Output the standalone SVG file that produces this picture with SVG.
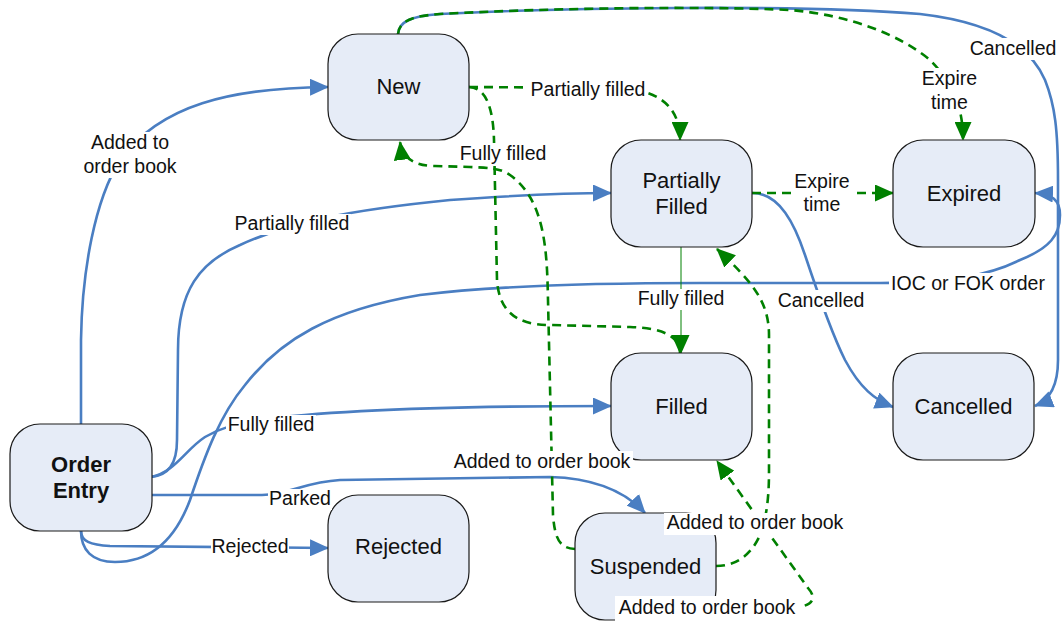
<svg xmlns="http://www.w3.org/2000/svg" width="1062" height="621" viewBox="0 0 1062 621">
<style>
.node rect{fill:#E6ECF7;stroke:#1a1a1a;stroke-width:1.2}
.node text{font-family:"Liberation Sans",Arial,sans-serif;font-size:22px;fill:#111;text-anchor:middle}
.node text.b{font-weight:bold}
.bl{fill:none;stroke:#4A7EC2;stroke-width:2.6}
.gr{fill:none;stroke:#008000;stroke-width:2.6;stroke-dasharray:9,6}
.gt{fill:none;stroke:#008000;stroke-width:1}
.lbg{fill:#fff}
.lt{font-family:"Liberation Sans",Arial,sans-serif;font-size:19.5px;fill:#111;text-anchor:middle}
</style>
<defs>
<marker id="ab" markerUnits="userSpaceOnUse" markerWidth="19" markerHeight="17" viewBox="0 0 19 17" refX="18" refY="8.5" orient="auto"><path d="M0,0 L19,8.5 L0,17 z" fill="#4A7EC2"/></marker>
<marker id="ag" markerUnits="userSpaceOnUse" markerWidth="19" markerHeight="17" viewBox="0 0 19 17" refX="18" refY="8.5" orient="auto"><path d="M0,0 L19,8.5 L0,17 z" fill="#008000"/></marker>
</defs>
<rect width="1062" height="621" fill="#fff"/>
<g id="connectors">
<path class="bl" marker-end="url(#ab)" d="M81,424 L81,340 C82,270 95,200 120,160 C160,105 230,88 328,87"/>
<path class="bl" marker-end="url(#ab)" d="M151,477 C168,475 177,465 177,440 L178,350 C178,290 200,262 240,245 C290,222 350,210 450,200 C520,195 570,193 611,193"/>
<path class="bl" marker-end="url(#ab)" d="M151,477 C175,472 185,450 205,437 C220,428 235,424 260,420 C330,410 450,406 611,406"/>
<path class="bl" marker-end="url(#ab)" d="M152,495 L262,495 C290,494 305,482 340,480 L550,477 C590,478 622,488 645,513"/>
<path class="bl" marker-end="url(#ab)" d="M81,531 C81,541 90,545 110,546 L328,548"/>
<path class="bl" marker-end="url(#ab)" d="M81,531 C81,550 92,562 115,562 C150,562 175,540 190,500 C205,455 220,415 245,385 C280,340 330,310 420,295 C500,285 600,283 700,283 L880,283 C950,283 990,275 1020,260 C1050,248 1060,235 1060,215 C1060,200 1052,194 1035,193"/>
<path class="bl" marker-end="url(#ab)" d="M752,193 C780,193 795,225 805,255 C815,285 830,330 845,360 C860,388 875,400 893,407"/>
<path class="bl" marker-end="url(#ab)" d="M398,34 C399,22 410,16 440,14 C550,8 800,4 920,14 C990,22 1030,45 1045,80 C1055,105 1058,130 1058,180 L1058,360 C1058,385 1050,400 1035,406"/>
<path class="gr" marker-end="url(#ag)" d="M398,34 C399,22 410,16 440,14 C550,8 700,6 790,10 C850,15 900,35 930,60 C955,85 963,110 963,140"/>
<path class="gr" marker-end="url(#ag)" d="M469,87 L620,88 C650,90 680,100 680,140"/>
<path class="gr" marker-end="url(#ag)" d="M752,193 L893,193"/>
<path class="gr" marker-end="url(#ag)" d="M469,87 C485,88 493,105 494,140 L497,280 C499,310 515,325 550,325 L630,327 C660,328 680,335 680,353"/>
<path class="gr" marker-end="url(#ag)" d="M575,549 C560,548 555,540 553,515 L548,300 C547,250 545,200 510,175 C500,168 490,168 470,167 L435,166 C415,166 402,158 400,142"/>
<path class="gr" marker-end="url(#ag)" d="M716,566 C740,566 755,550 762,530 C768,510 769,490 769,470 L769,335 C769,300 750,280 717,249"/>
<path class="gr" marker-end="url(#ag)" d="M700,612 L795,608 C815,605 816,597 808,588 L717,461"/>
<path class="gt" marker-end="url(#ag)" d="M681,247 L681,353"/>
</g>
<g id="node-new" class="node"><rect x="328" y="34" width="141" height="106" rx="30"/><text x="398.5" y="94">New</text></g>
<g id="node-partially-filled" class="node"><rect x="611" y="140" width="141" height="107" rx="30"/><text x="681.5" y="188">Partially</text><text x="681.5" y="214">Filled</text></g>
<g id="node-expired" class="node"><rect x="893" y="140" width="142" height="107" rx="30"/><text x="964" y="201">Expired</text></g>
<g id="node-filled" class="node"><rect x="611" y="353" width="141" height="107" rx="30"/><text x="681.5" y="414">Filled</text></g>
<g id="node-cancelled" class="node"><rect x="893" y="353" width="141" height="107" rx="30"/><text x="963.5" y="414">Cancelled</text></g>
<g id="node-order-entry" class="node"><rect x="10" y="424" width="142" height="107" rx="30"/><text class="b" x="81" y="472">Order</text><text class="b" x="81" y="498">Entry</text></g>
<g id="node-rejected" class="node"><rect x="328" y="495" width="141" height="107" rx="30"/><text x="398.5" y="554">Rejected</text></g>
<g id="node-suspended" class="node"><rect x="575" y="513" width="141" height="107" rx="30"/><text x="645.5" y="574">Suspended</text></g>
<g id="labels">
<rect class="lbg" x="83" y="132" width="94" height="46"/><text class="lt" x="130" y="149">Added to</text><text class="lt" x="130" y="173">order book</text>
<rect class="lbg" x="233" y="214" width="118" height="21"/><text class="lt" x="292" y="230">Partially filled</text>
<rect class="lbg" x="226" y="415" width="90" height="21"/><text class="lt" x="271" y="431">Fully filled</text>
<rect class="lbg" x="268" y="489" width="64" height="21"/><text class="lt" x="300" y="505">Parked</text>
<rect class="lbg" x="211" y="537" width="78" height="21"/><text class="lt" x="250" y="553">Rejected</text>
<rect class="lbg" x="889" y="273" width="158" height="21"/><text class="lt" x="968" y="290">IOC or FOK order</text>
<rect class="lbg" x="776" y="290" width="90" height="22"/><text class="lt" x="821" y="307">Cancelled</text>
<rect class="lbg" x="636" y="289" width="90" height="21"/><text class="lt" x="681" y="305">Fully filled</text>
<rect class="lbg" x="968" y="38" width="90" height="22"/><text class="lt" x="1013" y="55">Cancelled</text>
<rect class="lbg" x="920" y="68" width="59" height="46"/><text class="lt" x="949.5" y="85">Expire</text><text class="lt" x="949.5" y="109">time</text>
<rect class="lbg" x="793" y="171" width="58" height="45"/><text class="lt" x="822" y="188">Expire</text><text class="lt" x="822" y="211">time</text>
<rect class="lbg" x="529" y="80" width="118" height="21"/><text class="lt" x="588" y="96">Partially filled</text>
<rect class="lbg" x="458" y="143" width="90" height="20"/><text class="lt" x="503" y="160">Fully filled</text>
<rect class="lbg" x="452" y="451" width="181" height="22"/><text class="lt" x="542" y="468">Added to order book</text>
<rect class="lbg" x="664" y="513" width="184" height="22"/><text class="lt" x="755" y="529">Added to order book</text>
<rect class="lbg" x="615" y="596" width="185" height="25"/><text class="lt" x="707" y="614">Added to order book</text>
</g>
</svg>
